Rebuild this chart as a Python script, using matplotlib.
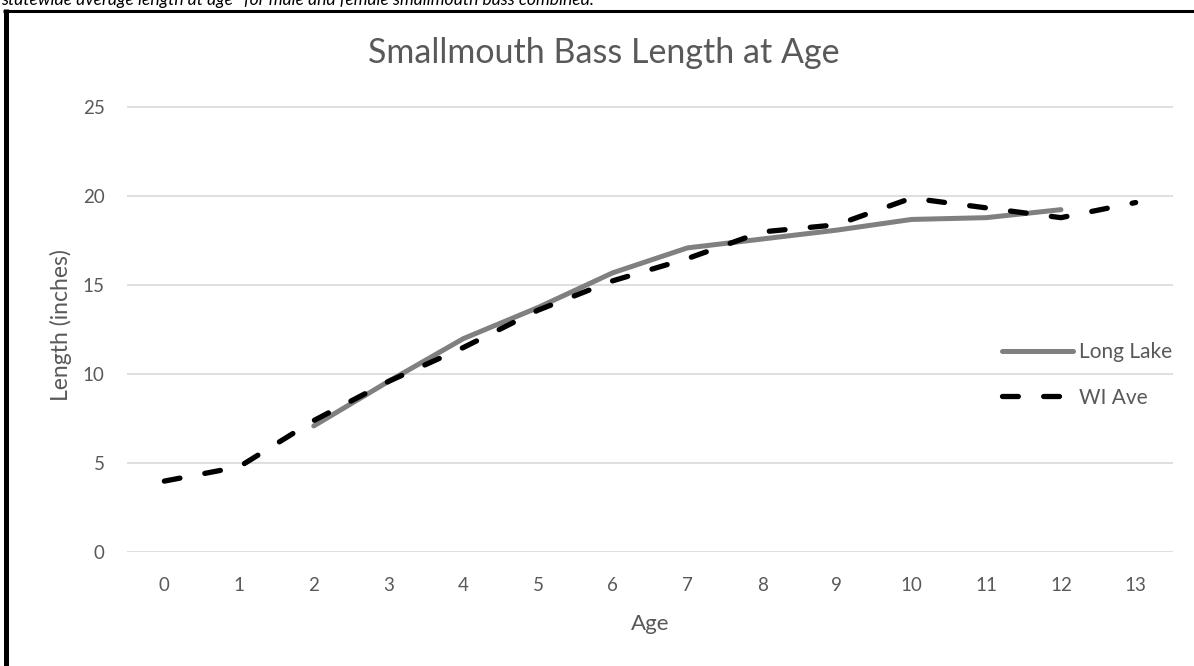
import matplotlib
matplotlib.use("Agg")
import matplotlib.pyplot as plt
from matplotlib.lines import Line2D

ages = list(range(0, 14))
long_lake_ages = [2, 3, 4, 5, 6, 7, 8, 9, 10, 11, 12]
long_lake = [7.1, 9.6, 12.0, 13.75, 15.7, 17.1, 17.6, 18.1, 18.7, 18.8, 19.25]
wi_ave = [4.0, 4.8, 7.4, 9.6, 11.5, 13.6, 15.25, 16.5, 18.0, 18.4, 19.9, 19.35, 18.8, 19.65]
yticks = [0, 5, 10, 15, 20, 25]

title = "Smallmouth Bass Length at Age"
caption = "statewide average length at age* for male and female smallmouth bass combined."

FONT = ["Lato", "DejaVu Sans"]
plt.rcParams["font.family"] = FONT
TXT = "#595959"

W, H = 1194, 666
fig = plt.figure(figsize=(W / 100, H / 100), dpi=100)

left_px, right_px = 127, 1173
bottom_px = 552.3
unit = 17.8
ymax = 25.5
top_px = bottom_px - ymax * unit
ax = fig.add_axes([left_px / W, 1 - bottom_px / H, (right_px - left_px) / W, (bottom_px - top_px) / H])

ax.plot(long_lake_ages, long_lake, color="#808080", lw=3.6, solid_capstyle="round",
        solid_joinstyle="round", label="Long Lake", zorder=3)
wi_line, = ax.plot(ages, wi_ave, color="black", lw=3.8, label="WI Ave", zorder=4,
                   dash_capstyle="round")
wi_line.set_dashes((3.0, 4.8))

ax.set_xlim(-0.5, 13.5)
ax.set_ylim(0, ymax)
ax.set_xticks(ages)
ax.set_xticklabels([str(a) for a in ages])
ax.set_yticks(yticks)
ax.yaxis.grid(True, color="#d9d9d9", lw=1.2)
ax.set_axisbelow(True)
for s in ax.spines.values():
    s.set_visible(False)
ax.tick_params(axis="both", length=0, labelsize=13.5, labelcolor=TXT)
ax.tick_params(axis="y", pad=16)
ax.tick_params(axis="x", pad=18)

ax.set_xlabel("Age", fontsize=16, color=TXT, labelpad=14)
ax.set_ylabel("Length (inches)", fontsize=16.5, color=TXT, labelpad=8)

fig.text(604 / W, 1 - 53 / H, title, fontsize=24.5, color=TXT,
         ha="center", va="center")

leg = fig.legend(handles=ax.get_lines(), loc="center left",
                 bbox_to_anchor=(1002 / W, 1 - 375 / H), bbox_transform=fig.transFigure,
                 frameon=False, fontsize=15, handlelength=3.4, handletextpad=0.3,
                 labelspacing=1.2, borderaxespad=0, borderpad=0)
for t in leg.get_texts():
    t.set_color(TXT)

# caption cut off at top, as in the reference
fig.text(1 / W, 1 - 5 / H, caption, fontsize=12.6, style="italic", color="black",
         ha="left", va="baseline")

# border lines (thick left and top)
fig.add_artist(Line2D([5.5 / W, 5.5 / W], [0, 1 - 9 / H], transform=fig.transFigure,
                      color="black", lw=3.6, solid_capstyle="butt"))
fig.add_artist(Line2D([3 / W, 1], [1 - 11 / H, 1 - 11 / H], transform=fig.transFigure,
                      color="black", lw=2.2, solid_capstyle="butt"))

fig.savefig("out.png", dpi=100)
